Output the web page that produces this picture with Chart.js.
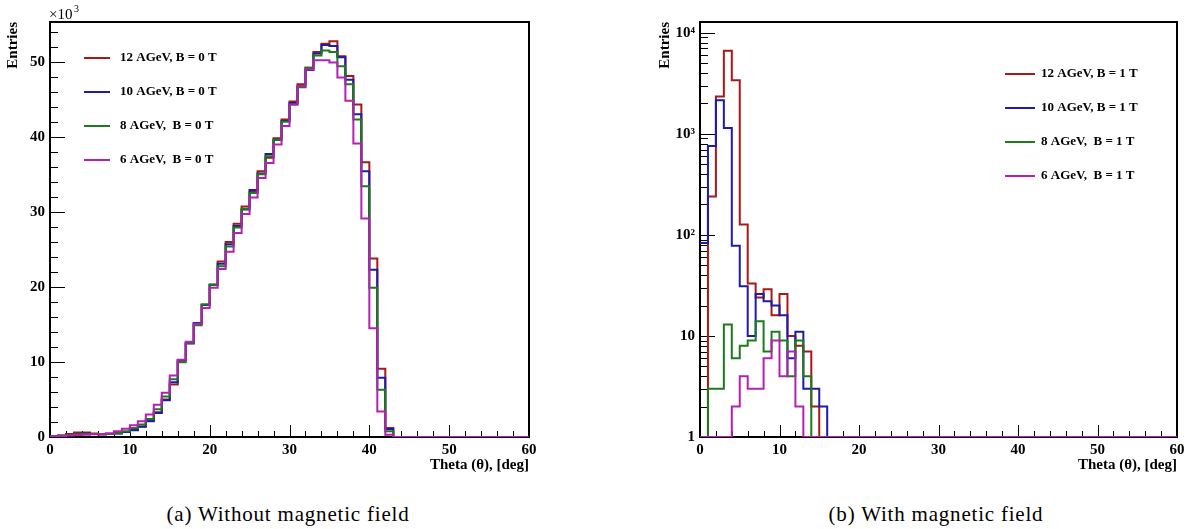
<!DOCTYPE html>
<html lang="en">
<head>
<meta charset="UTF-8">
<title>Theta distributions</title>
<style>
  body { margin: 0; padding: 0; background: #fff; width: 1193px; height: 529px; overflow: hidden; position: relative; font-family: "Liberation Serif", serif; }
  .panel { position: absolute; top: 0; width: 545px; height: 480px; }
  #left { left: 0; }
  #right { left: 650px; }
  .caption { position: absolute; top: 502px; font-size: 21px; letter-spacing: 0.8px; white-space: nowrap; transform: translateX(-50%); color: #000; }
</style>
<script src="https://cdn.jsdelivr.net/npm/chart.js"></script>
</head>
<body>
<div class="panel" id="left"><canvas id="chartA"></canvas></div>
<div class="panel" id="right"><canvas id="chartB"></canvas></div>
<div class="caption" style="left:288px">(a) Without magnetic field</div>
<div class="caption" style="left:936px">(b) With magnetic field</div>

<script>
// theta bins: 1 degree wide, 0..60
const binEdges = [0, 1, 2, 3, 4, 5, 6, 7, 8, 9, 10, 11, 12, 13, 14, 15, 16, 17, 18, 19, 20,
  21, 22, 23, 24, 25, 26, 27, 28, 29, 30, 31, 32, 33, 34, 35, 36, 37, 38, 39, 40,
  41, 42, 43, 44, 45, 46, 47, 48, 49, 50, 51, 52, 53, 54, 55, 56, 57, 58, 59, 60];

// (a) B = 0 T, entries in units of 10^3
const a12 = [0.05, 0.2, 0.4, 0.6, 0.6, 0.45, 0.35, 0.4, 0.5, 0.65,
  0.95, 1.4, 2.2, 3.3, 5.0, 7.0, 10.2, 12.5, 15.1, 17.6,
  20.3, 23.4, 26.0, 28.4, 30.7, 32.7, 35.4, 37.2, 39.8, 42.3,
  44.7, 47.0, 49.2, 51.3, 52.4, 52.75, 50.75, 48.1, 44.3, 36.6,
  23.8, 9.1, 1.2, 0, 0, 0, 0, 0, 0, 0,
  0, 0, 0, 0, 0, 0, 0, 0, 0, 0];
const a10 = [0.05, 0.15, 0.3, 0.4, 0.45, 0.4, 0.35, 0.4, 0.45, 0.65,
  0.9, 1.35, 2.1, 3.2, 4.9, 7.3, 10.2, 12.5, 15.2, 17.6,
  20.3, 23.1, 25.7, 28.1, 30.3, 32.9, 35.1, 37.7, 39.6, 42.1,
  44.5, 46.75, 48.9, 51.1, 52.25, 52.1, 50.6, 47.6, 43.0, 35.4,
  22.3, 7.9, 1.05, 0, 0, 0, 0, 0, 0, 0,
  0, 0, 0, 0, 0, 0, 0, 0, 0, 0];
const a8 = [0.05, 0.15, 0.25, 0.35, 0.4, 0.4, 0.35, 0.4, 0.5, 0.75,
  1.2, 1.65, 2.4, 3.7, 5.4, 7.7, 9.95, 12.5, 14.9, 17.7,
  20.3, 22.75, 25.4, 27.9, 30.4, 32.5, 35.0, 37.4, 39.6, 42.0,
  44.3, 46.6, 49.2, 50.85, 51.5, 51.3, 49.4, 47.0, 42.3, 33.4,
  19.9, 6.3, 0.75, 0, 0, 0, 0, 0, 0, 0,
  0, 0, 0, 0, 0, 0, 0, 0, 0, 0];
const a6 = [0.05, 0.1, 0.2, 0.25, 0.3, 0.35, 0.35, 0.5, 0.75, 1.1,
  1.55, 2.1, 3.0, 4.3, 5.9, 8.2, 10.3, 12.7, 15.1, 17.2,
  19.9, 22.4, 24.7, 27.2, 29.7, 31.9, 34.5, 36.5, 38.96, 41.45,
  44.3, 46.75, 48.97, 50.2, 50.2, 49.9, 47.9, 44.8, 39.1, 29.1,
  14.5, 3.4, 0.3, 0, 0, 0, 0, 0, 0, 0,
  0, 0, 0, 0, 0, 0, 0, 0, 0, 0];

// (b) B = 1 T, raw entries
const b12 = [0, 240, 2350, 6640, 3400, 127, 33, 24, 29, 16,
  26, 10, 8, 7, 2, 0, 0, 0, 0, 0,
  0, 0, 0, 0, 0, 0, 0, 0, 0, 0,
  0, 0, 0, 0, 0, 0, 0, 0, 0, 0,
  0, 0, 0, 0, 0, 0, 0, 0, 0, 0,
  0, 0, 0, 0, 0, 0, 0, 0, 0, 0];
const b10 = [83, 760, 2150, 1140, 78, 31, 10, 26, 22, 20,
  16, 6, 11, 3, 3, 2, 0, 0, 0, 0,
  0, 0, 0, 0, 0, 0, 0, 0, 0, 0,
  0, 0, 0, 0, 0, 0, 0, 0, 0, 0,
  0, 0, 0, 0, 0, 0, 0, 0, 0, 0,
  0, 0, 0, 0, 0, 0, 0, 0, 0, 0];
const b8 = [0, 3, 3, 13, 6, 8, 9, 14, 7, 11,
  9, 4, 9, 4, 0, 0, 0, 0, 0, 0,
  0, 0, 0, 0, 0, 0, 0, 0, 0, 0,
  0, 0, 0, 0, 0, 0, 0, 0, 0, 0,
  0, 0, 0, 0, 0, 0, 0, 0, 0, 0,
  0, 0, 0, 0, 0, 0, 0, 0, 0, 0];
const b6 = [0, 0, 0, 0, 2, 4, 3, 3, 6, 9,
  4, 7, 2, 0, 0, 0, 0, 0, 0, 0,
  0, 0, 0, 0, 0, 0, 0, 0, 0, 0,
  0, 0, 0, 0, 0, 0, 0, 0, 0, 0,
  0, 0, 0, 0, 0, 0, 0, 0, 0, 0,
  0, 0, 0, 0, 0, 0, 0, 0, 0, 0];

const labelsA = ['12 AGeV, B = 0 T', '10 AGeV, B = 0 T', '8 AGeV,  B = 0 T', '6 AGeV,  B = 0 T'];
const labelsB = ['12 AGeV, B = 1 T', '10 AGeV, B = 1 T', '8 AGeV,  B = 1 T', '6 AGeV,  B = 1 T'];
const colors = ['#a81818', '#1c1ca8', '#1d7a1d', '#b420b4'];

const xTicks = [0, 10, 20, 30, 40, 50, 60];
const yTicksA = [0, 10, 20, 30, 40, 50];
const yTicksB = [1, 10, 100, 1000, 10000];
const yLabelsB = ['1', '10', '10²', '10³', '10⁴'];

Chart.defaults.font.family = '"Liberation Serif", serif';
Chart.defaults.font.weight = 'bold';
Chart.defaults.font.size = 15;
Chart.defaults.color = '#000';

// histogram outline: value of bin i spans [edge i, edge i+1]
function histPoints(vals, floor) {
  const pts = vals.map((v, i) => ({ x: binEdges[i], y: Math.max(v, floor) }));
  pts.push({ x: binEdges[vals.length], y: Math.max(vals[vals.length - 1], floor) });
  return pts;
}

function makeSets(series, labels, floor) {
  return series.map((s, i) => ({
    label: labels[i],
    data: histPoints(s, floor),
    borderColor: colors[i],
    borderWidth: 2,
    pointRadius: 0,
    stepped: 'before',
    fill: false,
    order: series.length - i
  }));
}

// ROOT-style frame with inward ticks, in-pad legend and titles
const rootFrame = {
  id: 'rootFrame',
  beforeDatasetsDraw(chart, args, o) {
    const { ctx, chartArea: a, scales } = chart;
    ctx.save();
    ctx.strokeStyle = '#000';
    ctx.lineWidth = 1;
    const xs = scales.x, ys = scales.y;
    ctx.beginPath();
    for (let v = 0; v <= 60; v += 2) {
      const px = Math.round(xs.getPixelForValue(v)) + 0.5;
      const len = v % 10 === 0 ? 12 : 6;
      ctx.moveTo(px, a.bottom);
      ctx.lineTo(px, a.bottom - len);
    }
    o.yMajor.forEach(v => {
      const py = Math.round(ys.getPixelForValue(v)) + 0.5;
      ctx.moveTo(a.left, py);
      ctx.lineTo(a.left + 15, py);
    });
    o.yMinor.forEach(v => {
      const py = Math.round(ys.getPixelForValue(v)) + 0.5;
      ctx.moveTo(a.left, py);
      ctx.lineTo(a.left + 8, py);
    });
    ctx.stroke();
    ctx.lineWidth = 2;
    ctx.strokeRect(a.left, a.top, a.right - a.left, a.bottom - a.top);
    ctx.restore();
  },
  afterDraw(chart, args, o) {
    const { ctx, chartArea: a } = chart;
    ctx.save();
    ctx.fillStyle = '#000';
    // legend
    ctx.font = 'bold 13px "Liberation Serif"';
    ctx.textBaseline = 'middle';
    ctx.textAlign = 'left';
    chart.data.datasets.forEach((d, i) => {
      const y = o.legY + i * o.legDy;
      ctx.strokeStyle = d.borderColor;
      ctx.lineWidth = 2;
      ctx.beginPath();
      ctx.moveTo(o.legX0, y);
      ctx.lineTo(o.legX1, y);
      ctx.stroke();
      ctx.fillText(d.label, o.legText, y);
    });
    // axis titles
    ctx.font = 'bold 15px "Liberation Serif"';
    ctx.textAlign = 'right';
    ctx.fillText('Theta (\u03b8), [deg]', a.right, 465);
    ctx.save();
    ctx.translate(o.entriesX, a.top);
    ctx.rotate(-Math.PI / 2);
    ctx.textAlign = 'right';
    ctx.fillText('Entries', 0, 0);
    ctx.restore();
    if (o.exponent) {
      ctx.textAlign = 'left';
      ctx.textBaseline = 'alphabetic';
      ctx.font = '15px "Liberation Serif"';
      ctx.fillText('\u00d710', a.left - 1, 19);
      ctx.font = '10px "Liberation Serif"';
      ctx.fillText('3', a.left + 24, 12);
    }
    ctx.restore();
  }
};

function xScale() {
  return {
    type: 'linear', min: 0, max: 60,
    grid: { display: false, drawTicks: false },
    border: { display: false },
    ticks: { padding: 4, maxRotation: 0, autoSkip: false },
    afterBuildTicks: s => { s.ticks = xTicks.map(v => ({ value: v })); },
    afterFit: s => { s.height = 43; }
  };
}

const minorA = [];
for (let v = 2; v < 55; v += 2) if (v % 10 !== 0) minorA.push(v);
const minorB = [];
for (let d = 1; d <= 10000; d *= 10) for (let m = 2; m <= 9; m++) if (d * m < 12800) minorB.push(d * m);

new Chart(document.getElementById('chartA'), {
  type: 'line',
  data: { datasets: makeSets([a12, a10, a8, a6], labelsA, 0) },
  options: {
    responsive: true, maintainAspectRatio: false, animation: false, devicePixelRatio: 1,
    events: [],
    layout: { padding: { top: 22, right: 16, left: 0, bottom: 0 } },
    scales: {
      x: xScale(),
      y: {
        type: 'linear', min: 0, max: 55.3,
        grid: { display: false, drawTicks: false },
        border: { display: false },
        ticks: { padding: 5, autoSkip: false },
        afterBuildTicks: s => { s.ticks = yTicksA.map(v => ({ value: v })); },
        afterFit: s => { s.width = 50; }
      }
    },
    plugins: {
      legend: { display: false },
      tooltip: { enabled: false },
      rootFrame: { yMajor: yTicksA, yMinor: minorA, legX0: 84, legX1: 110, legText: 120, legY: 58, legDy: 34, entriesX: 13, exponent: true }
    }
  },
  plugins: [rootFrame]
});

new Chart(document.getElementById('chartB'), {
  type: 'line',
  data: { datasets: makeSets([b12, b10, b8, b6], labelsB, 1) },
  options: {
    responsive: true, maintainAspectRatio: false, animation: false, devicePixelRatio: 1,
    events: [],
    layout: { padding: { top: 22, right: 18, left: 0, bottom: 0 } },
    scales: {
      x: xScale(),
      y: {
        type: 'logarithmic', min: 1, max: 12800,
        grid: { display: false, drawTicks: false },
        border: { display: false },
        ticks: { padding: 5, autoSkip: false, callback: v => yLabelsB[yTicksB.indexOf(v)] },
        afterBuildTicks: s => { s.ticks = yTicksB.map(v => ({ value: v })); },
        afterFit: s => { s.width = 50; }
      }
    },
    plugins: {
      legend: { display: false },
      tooltip: { enabled: false },
      rootFrame: { yMajor: yTicksB, yMinor: minorB, legX0: 355, legX1: 385, legText: 391, legY: 74, legDy: 34, entriesX: 15, exponent: false }
    }
  },
  plugins: [rootFrame]
});
</script>
</body>
</html>
